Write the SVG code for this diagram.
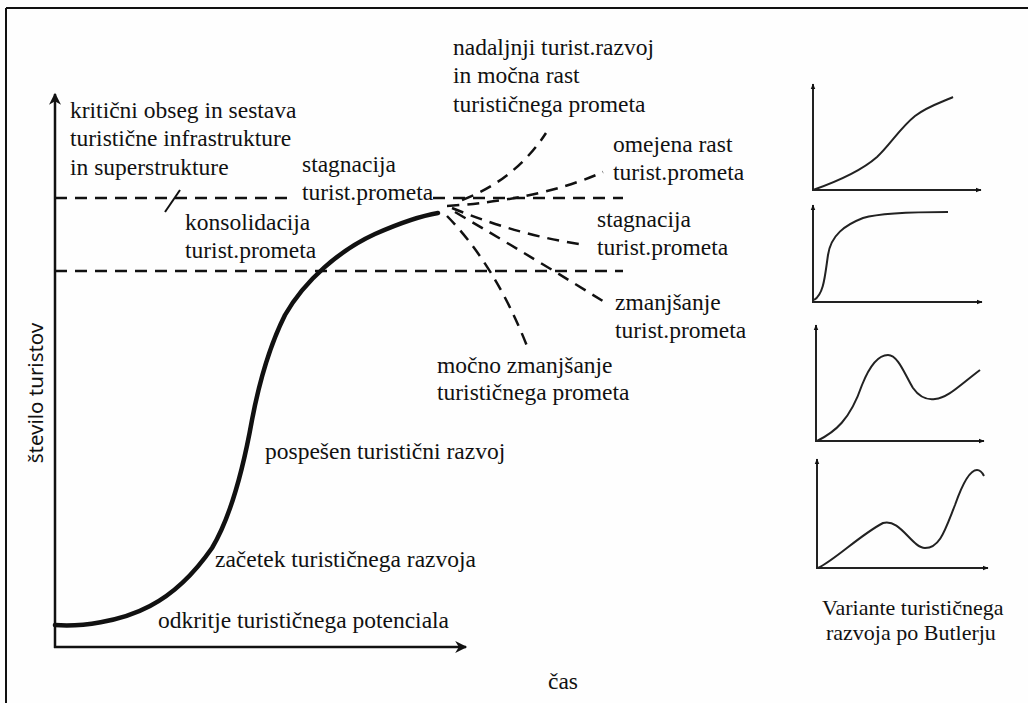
<svg xmlns="http://www.w3.org/2000/svg" width="1028" height="703" viewBox="0 0 1028 703">
<defs>
<style>
.t{font-family:"Liberation Serif","Times New Roman",serif;font-size:23.5px;fill:#111}
.ts{font-family:"Liberation Serif","Times New Roman",serif;font-size:22px;fill:#111}
.ax{stroke:#111;stroke-width:2.5;fill:none}
.sax{stroke:#222;stroke-width:2;fill:none}
.dash{stroke:#111;stroke-width:2.5;fill:none;stroke-dasharray:12 8}
.crv{stroke:#111;stroke-width:4.5;fill:none;stroke-linecap:round}
.scrv{stroke:#222;stroke-width:2;fill:none}
</style>
<marker id="ah" viewBox="0 0 10 10" refX="9" refY="5" markerWidth="6" markerHeight="6" markerUnits="userSpaceOnUse" orient="auto"><path d="M0,1 L10,5 L0,9 Z" fill="#111"/></marker>
<marker id="ahb" viewBox="0 0 10 10" refX="9" refY="5" markerWidth="16" markerHeight="12" markerUnits="userSpaceOnUse" orient="auto"><path d="M0,0 L10,5 L0,10 L3,5 Z" fill="#111"/></marker>
</defs>
<rect width="1028" height="703" fill="#fefefe"/>
<g id="frame">
<line x1="6" y1="8" x2="1028" y2="8" stroke="#111" stroke-width="2"/>
<line x1="6" y1="8" x2="6" y2="703" stroke="#111" stroke-width="2"/>
</g>
<g id="axes">
<line class="ax" x1="55" y1="648" x2="55" y2="94" marker-end="url(#ahb)"/>
<line class="ax" x1="54" y1="647" x2="466" y2="647" marker-end="url(#ahb)"/>
<text class="t" x="548" y="689">čas</text>
<text x="43" y="393" transform="rotate(-90 43 393)" text-anchor="middle" style="font-family:'Noto Sans','Open Sans',sans-serif;font-size:20.5px;fill:#111">število turistov</text>
</g>
<g id="connectors">
<line class="dash" x1="55" y1="198" x2="292" y2="198"/>
<line class="dash" x1="433" y1="198" x2="623" y2="198"/>
<line class="dash" x1="55" y1="271" x2="623" y2="271"/>
<line x1="165" y1="212" x2="180" y2="190" stroke="#111" stroke-width="2"/>
<path class="dash" d="M462,200 Q515,180 546,133"/>
<path class="dash" d="M447,206 Q540,200 603,172"/>
<path class="dash" d="M452,208 Q520,236 586,245"/>
<path class="dash" d="M455,212 Q540,262 606,303"/>
<path class="dash" d="M447,216 Q495,265 527,346"/>
</g>
<g id="main-curve">
<path class="crv" d="M55,625 C80,627 120,622 150,606 C175,593 196,571 212,548 C230,518 243,470 252,420 C260,378 270,345 285,315 C305,280 340,250 375,234 C400,223 420,216 438,213"/>
</g>
<g id="label-kriticni">
<text class="t" x="70" y="118">kritični obseg in sestava</text>
<text class="t" x="70" y="146">turistične infrastrukture</text>
<text class="t" x="70" y="175">in superstrukture</text>
</g>
<g id="label-stagnacija1">
<text class="t" x="302" y="172">stagnacija</text>
<text class="t" x="302" y="200">turist.prometa</text>
</g>
<g id="label-konsolidacija">
<text class="t" x="185" y="230">konsolidacija</text>
<text class="t" x="185" y="258">turist.prometa</text>
</g>
<g id="label-nadaljnji">
<text class="t" x="453" y="55">nadaljnji turist.razvoj</text>
<text class="t" x="453" y="83">in močna rast</text>
<text class="t" x="453" y="112">turističnega prometa</text>
</g>
<g id="label-omejena">
<text class="t" x="613" y="152">omejena rast</text>
<text class="t" x="613" y="180">turist.prometa</text>
</g>
<g id="label-stagnacija2">
<text class="t" x="597" y="227">stagnacija</text>
<text class="t" x="597" y="255">turist.prometa</text>
</g>
<g id="label-zmanjsanje">
<text class="t" x="615" y="310">zmanjšanje</text>
<text class="t" x="615" y="338">turist.prometa</text>
</g>
<g id="label-mocno">
<text class="t" x="437" y="373">močno zmanjšanje</text>
<text class="t" x="437" y="400">turističnega prometa</text>
</g>
<g id="label-pospesen"><text class="t" x="265" y="459">pospešen turistični razvoj</text></g>
<g id="label-zacetek"><text class="t" x="215" y="567">začetek turističnega razvoja</text></g>
<g id="label-odkritje"><text class="t" x="158" y="628">odkritje turističnega potenciala</text></g>
<g id="chart1">
<line class="sax" x1="813" y1="191" x2="813" y2="84" marker-end="url(#ah)"/>
<line class="sax" x1="812" y1="190" x2="981" y2="190" marker-end="url(#ah)"/>
<path class="scrv" d="M813,190 C830,184 860,172 877,157 C890,145 900,128 915,116 C928,106 945,101 953,97"/>
</g>
<g id="chart2">
<line class="sax" x1="813" y1="303" x2="813" y2="205" marker-end="url(#ah)"/>
<line class="sax" x1="812" y1="302" x2="982" y2="302" marker-end="url(#ah)"/>
<path class="scrv" d="M814,300 C824,294 825,275 828,255 C831,235 845,225 863,218 C880,213 910,212 948,212"/>
</g>
<g id="chart3">
<line class="sax" x1="816" y1="442" x2="816" y2="325" marker-end="url(#ah)"/>
<line class="sax" x1="815" y1="441" x2="984" y2="441" marker-end="url(#ah)"/>
<path class="scrv" d="M817,441 C835,432 850,420 862,385 C872,360 882,355 888,355 C898,355 905,375 913,388 C920,398 928,400 935,399 C948,398 960,385 980,370"/>
</g>
<g id="chart4">
<line class="sax" x1="817" y1="569" x2="817" y2="459" marker-end="url(#ah)"/>
<line class="sax" x1="816" y1="568" x2="988" y2="568" marker-end="url(#ah)"/>
<path class="scrv" d="M818,568 C835,560 860,535 883,523 C900,518 912,548 925,548 C940,548 945,530 955,505 C962,485 970,470 977,470 C980,470 982,472 984,476"/>
</g>
<g id="caption">
<text class="ts" x="822" y="615">Variante turističnega</text>
<text class="ts" x="826" y="640">razvoja po Butlerju</text>
</g>
</svg>
